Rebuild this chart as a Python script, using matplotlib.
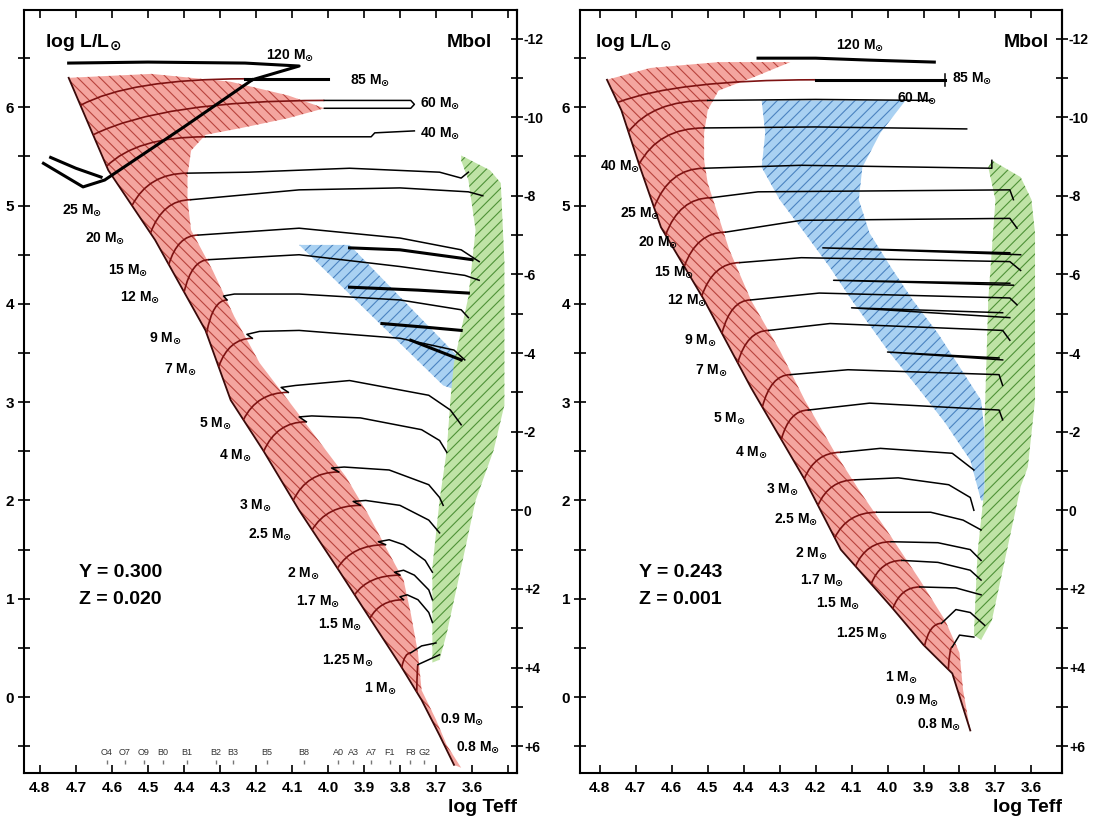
import numpy as np
import matplotlib
matplotlib.use("Agg")
import matplotlib.pyplot as plt
from matplotlib.patches import Polygon, PathPatch
from matplotlib.path import Path
from matplotlib.ticker import FixedLocator, FuncFormatter

plt.rcParams['font.family'] = ['Liberation Sans Narrow', 'Liberation Sans', 'DejaVu Sans']
plt.rcParams['font.weight'] = 'bold'
plt.rcParams['mathtext.fontset'] = 'dejavusans'
plt.rcParams['hatch.linewidth'] = 0.8

# ---------------- common labels ----------------
MASS_NAMES = ['120', '85', '60', '40', '25', '20', '15', '12', '9', '7', '5', '4',
              '3', '2.5', '2', '1.7', '1.5', '1.25', '1', '0.9', '0.8']
XTICKS = [4.8, 4.7, 4.6, 4.5, 4.4, 4.3, 4.2, 4.1, 4.0, 3.9, 3.8, 3.7, 3.6, 3.5]
MBOL_TICKS = [-12, -10, -8, -6, -4, -2, 0, 2, 4, 6]
MBOL_LABELS = ['-12', '-10', '-8', '-6', '-4', '-2', '0', '+2', '+4', '+6']
SPEC_TYPES = ['O4', 'O7', 'O9', 'B0', 'B1', 'B2', 'B3', 'B5', 'B8', 'A0', 'A3', 'A7', 'F1', 'F8', 'G2']
SPEC_TEFF = [4.614, 4.564, 4.511, 4.458, 4.392, 4.311, 4.264, 4.169, 4.067, 3.972, 3.93, 3.88, 3.828, 3.772, 3.733]

# ---------------- LEFT panel: Y=0.300, Z=0.020 ----------------
L_ZAMS_T = [4.72, 4.61, 4.48, 4.34, 4.27, 4.18, 4.08, 3.97, 3.88, 3.80, 3.74, 3.69, 3.65]
L_ZAMS_L = [6.30, 5.36, 4.65, 3.73, 3.02, 2.51, 1.90, 1.29, 0.78, 0.33, -0.03, -0.39, -0.69]
L_RED_TOP_T = [4.72, 4.49, 4.27, 4.11, 4.01]
L_RED_TOP_L = [6.30, 6.34, 6.26, 6.12, 5.99]
L_RED_EDGE_T = [4.11, 4.24, 4.34, 4.38, 4.39, 4.39, 4.38, 4.32, 4.26, 4.19, 4.09, 3.95,
                3.89, 3.83, 3.79, 3.77, 3.75, 3.74, 3.70, 3.67, 3.63]
L_RED_EDGE_L = [5.89, 5.79, 5.72, 5.56, 5.31, 5.06, 4.75, 4.34, 3.87, 3.40, 2.92, 2.24,
                1.87, 1.46, 1.19, 0.85, 0.45, 0.07, -0.23, -0.49, -0.72]
L_GREEN_T = [3.63, 3.55, 3.52, 3.51, 3.51, 3.54, 3.59, 3.63, 3.67, 3.69, 3.71, 3.71,
             3.71, 3.69, 3.67, 3.66, 3.65, 3.61, 3.59, 3.61, 3.63]
L_GREEN_L = [5.51, 5.36, 5.23, 4.42, 2.97, 2.51, 2.00, 1.32, 0.65, 0.38, 0.35, 0.65,
             1.32, 2.00, 2.51, 3.02, 3.40, 4.07, 4.75, 5.26, 5.46]
L_BLUE_T = [4.08, 3.94, 3.63, 3.64, 3.68]
L_BLUE_L = [4.60, 4.60, 3.43, 3.12, 3.17]

# post main-sequence tracks (logTeff, logL)
L120A = ([4.72, 4.50, 4.23, 4.08, 4.21], [6.45, 6.46, 6.45, 6.42, 6.28])
L120B = ([4.21, 4.40, 4.62, 4.68, 4.79], [6.28, 5.80, 5.26, 5.19, 5.43])
L120C = ([4.63, 4.70, 4.77], [5.29, 5.38, 5.49])
L85 = ([4.23, 4.00], [6.29, 6.29])
L60 = ([4.01, 3.77, 3.76, 3.77, 4.01], [6.07, 6.07, 6.03, 5.99, 5.99])
L40 = ([4.34, 3.88, 3.87, 3.76], [5.70, 5.70, 5.74, 5.76])
L25 = ([4.39, 4.22, 3.94, 3.69, 3.63, 3.61], [5.33, 5.34, 5.38, 5.34, 5.28, 5.34])
L20 = ([4.38, 4.08, 3.80, 3.61, 3.57], [5.06, 5.16, 5.18, 5.14, 5.10])
L15 = ([4.36, 4.08, 3.80, 3.63, 3.58], [4.70, 4.77, 4.67, 4.55, 4.43])
L12 = ([4.33, 4.08, 3.80, 3.62, 3.58], [4.45, 4.50, 4.38, 4.29, 4.24])
L12B = ([3.94, 3.80, 3.60], [4.57, 4.55, 4.45])
L9 = ([4.28, 4.29, 4.26, 4.08, 3.80, 3.63, 3.61], [4.04, 4.08, 4.10, 4.10, 4.04, 3.94, 3.86])
L9B = ([3.94, 3.75, 3.61], [4.17, 4.14, 4.11])
L7 = ([4.21, 4.225, 4.19, 4.08, 3.80, 3.65, 3.62], [3.65, 3.69, 3.72, 3.73, 3.65, 3.53, 3.43])
L7B = ([3.85, 3.72, 3.63], [3.80, 3.76, 3.73])
L5B = ([3.77, 3.63], [3.63, 3.43])
L5 = ([4.11, 4.13, 4.09, 3.94, 3.72, 3.66, 3.63], [3.10, 3.15, 3.17, 3.22, 3.07, 2.92, 2.77])
L4 = ([4.06, 4.08, 4.045, 3.91, 3.74, 3.69, 3.67], [2.80, 2.85, 2.86, 2.84, 2.72, 2.61, 2.49])
L3 = ([3.97, 3.99, 3.955, 3.83, 3.72, 3.69, 3.68], [2.29, 2.33, 2.34, 2.31, 2.16, 2.03, 1.95])
L2_5 = ([3.91, 3.93, 3.895, 3.80, 3.72, 3.69], [1.95, 1.99, 2.00, 1.95, 1.80, 1.67])
L2 = ([3.84, 3.86, 3.83, 3.79, 3.73, 3.71], [1.55, 1.58, 1.60, 1.55, 1.39, 1.27])
L1_7 = ([3.80, 3.815, 3.79, 3.76, 3.72, 3.71], [1.24, 1.27, 1.29, 1.24, 1.09, 0.99])
L1_5 = ([3.79, 3.80, 3.78, 3.75, 3.72, 3.71], [0.99, 1.02, 1.04, 0.99, 0.86, 0.76])
L1_25 = ([3.77, 3.74, 3.70], [0.45, 0.52, 0.55])
L1 = ([3.75, 3.72, 3.69], [0.33, 0.38, 0.43])
L_TRACKS = [L60, L40, L25, L20, L15, L12, L9, L7, L5, L4, L3, L2_5, L2, L1_7, L1_5, L1_25, L1]
L_THICK = [L120A, L120B, L120C, L85, L12B, L9B, L7B, L5B]
# main-sequence arcs: ZAMS logL and the track each one joins
L_MS_ZAMS = [6.02, 5.72, 5.40, 5.00, 4.72, 4.40, 4.12, 3.70, 3.36, 2.82, 2.50, 2.00, 1.70, 1.31, 1.04, 0.80, 0.30, 0.05]
L_MS_TRACK = [L85, L60, L40, L25, L20, L15, L12, L9, L7, L5, L4, L3, L2_5, L2, L1_7, L1_5, L1_25, L1]
L_LAB_T = [4.106, 3.883, 3.689, 3.689, 4.683, 4.619, 4.556, 4.522, 4.453, 4.411, 4.314, 4.258,
           4.203, 4.161, 4.069, 4.028, 3.967, 3.944, 3.856, 3.628, 3.583]
L_LAB_L = [6.53, 6.28, 6.04, 5.74, 4.95, 4.67, 4.34, 4.07, 3.65, 3.34, 2.79, 2.46,
           1.95, 1.66, 1.26, 0.98, 0.74, 0.38, 0.09, -0.23, -0.51]

# ---------------- RIGHT panel: Y=0.243, Z=0.001 ----------------
R_ZAMS_T = [4.78, 4.74, 4.69, 4.63, 4.51, 4.38, 4.23, 4.13, 3.99, 3.90, 3.82, 3.77]
R_ZAMS_L = [6.28, 5.97, 5.41, 4.78, 4.04, 3.15, 2.21, 1.50, 0.92, 0.53, 0.24, -0.34]
R_RED_TOP_T = [4.78, 4.66, 4.47, 4.27]
R_RED_TOP_L = [6.28, 6.40, 6.46, 6.46]
R_RED_EDGE_T = [4.37, 4.47, 4.50, 4.51, 4.51, 4.50, 4.44, 4.38, 4.30, 4.23, 4.15, 4.08,
                3.99, 3.91, 3.84, 3.80, 3.79, 3.77]
R_RED_EDGE_L = [6.31, 6.17, 5.97, 5.74, 5.46, 5.23, 4.55, 4.04, 3.53, 3.02, 2.51, 2.11,
                1.63, 1.19, 0.78, 0.45, 0.07, -0.34]
R_GREEN_T = [3.71, 3.63, 3.60, 3.59, 3.59, 3.59, 3.61, 3.63, 3.67, 3.71, 3.74, 3.76,
             3.75, 3.73, 3.73, 3.72, 3.70, 3.72]
R_GREEN_L = [5.46, 5.29, 5.06, 4.72, 3.70, 3.02, 2.34, 2.14, 1.46, 0.78, 0.58, 0.63,
             1.46, 2.14, 2.82, 4.04, 5.06, 5.39]
R_BLUE_T = [4.35, 4.34, 4.35, 4.30, 4.23, 4.16, 4.10, 4.00, 3.91, 3.84, 3.77, 3.74,
            3.73, 3.73, 3.74, 3.80, 3.86, 3.93, 3.99, 4.05, 4.08, 4.07, 4.02, 3.95]
R_BLUE_L = [6.07, 5.74, 5.39, 5.06, 4.72, 4.37, 4.04, 3.53, 3.12, 2.79, 2.41, 2.00,
            2.00, 2.69, 3.02, 3.36, 3.70, 4.04, 4.37, 4.72, 5.06, 5.39, 5.74, 6.07]

R120 = ([4.36, 4.20, 4.05, 3.87], [6.50, 6.50, 6.48, 6.46])
R85 = ([4.20, 4.00, 3.84], [6.28, 6.28, 6.28])
R85_END = ([3.84, 3.84], [6.22, 6.34])
R60 = ([4.50, 4.20, 3.88], [6.07, 6.08, 6.07])
R40 = ([4.51, 4.20, 3.78], [5.79, 5.80, 5.78])
R25 = ([4.51, 4.24, 3.71, 3.71], [5.38, 5.41, 5.38, 5.46])
R20 = ([4.49, 4.36, 3.66, 3.65], [5.08, 5.14, 5.16, 5.06])
R15 = ([4.45, 4.24, 3.66, 3.64], [4.73, 4.85, 4.87, 4.77])
R12 = ([4.41, 4.24, 3.66, 3.63], [4.42, 4.47, 4.43, 4.34])
R12B = ([3.63, 4.18, 3.66], [4.50, 4.57, 4.52])
R9 = ([4.38, 4.19, 3.66, 3.64], [4.04, 4.11, 4.06, 3.99])
R9B = ([3.65, 4.15, 3.66], [4.19, 4.24, 4.21])
R7 = ([4.33, 4.16, 3.68, 3.66], [3.73, 3.80, 3.73, 3.63])
R7B = ([3.66, 4.10, 3.68], [3.86, 3.96, 3.91])
R5 = ([4.27, 4.11, 3.69, 3.68], [3.28, 3.33, 3.28, 3.17])
R5B = ([3.68, 4.00, 3.69], [3.43, 3.51, 3.45])
R4 = ([4.22, 4.05, 3.69, 3.68], [2.92, 2.99, 2.92, 2.82])
R3A = ([4.13, 4.02, 3.82, 3.76], [2.49, 2.53, 2.48, 2.31])
R3 = ([4.09, 3.97, 3.83, 3.77, 3.76], [2.21, 2.23, 2.16, 2.03, 1.90])
R2_5 = ([4.03, 3.88, 3.79, 3.74], [1.88, 1.88, 1.80, 1.70])
R2 = ([3.99, 3.86, 3.77, 3.74], [1.58, 1.57, 1.50, 1.39])
R1_7 = ([3.96, 3.86, 3.77, 3.74], [1.39, 1.37, 1.29, 1.19])
R1_5 = ([3.91, 3.81, 3.74], [1.12, 1.11, 1.04])
R1_25 = ([3.85, 3.81, 3.77, 3.73], [0.75, 0.89, 0.86, 0.73])
R1 = ([3.82, 3.80, 3.76], [0.51, 0.63, 0.61])
R_TRACKS = [R60, R40, R25, R20, R15, R12, R12B, R9, R9B, R7, R7B, R5, R5B, R4, R3A, R3,
            R2_5, R2, R1_7, R1_5, R1_25, R1, R85_END]
R_THICK = [R120, R85]
R_MS_ZAMS = [6.05, 5.75, 5.42, 4.98, 4.70, 4.38, 4.08, 3.70, 3.40, 2.95, 2.62, 2.22, 1.95, 1.62, 1.33, 1.15, 0.90, 0.52, 0.28]
R_MS_TRACK = [R85, R60, R40, R25, R20, R15, R12, R9, R7, R5, R4, R3A, R3, R2_5, R2, R1_7, R1_5, R1_25, R1]
R_LAB_T = [4.078, 3.765, 3.917, 4.744, 4.689, 4.639, 4.592, 4.558, 4.522, 4.489, 4.439, 4.378,
           4.294, 4.253, 4.211, 4.183, 4.139, 4.072, 3.961, 3.917, 3.856]
R_LAB_L = [6.63, 6.30, 6.09, 5.40, 4.92, 4.63, 4.32, 4.04, 3.63, 3.33, 2.84, 2.49,
           2.11, 1.81, 1.46, 1.19, 0.96, 0.65, 0.20, -0.03, -0.28]

RED_FILL, RED_HATCH = '#f4a59f', '#b8433d'
BLUE_FILL, BLUE_HATCH = '#a9d1f2', '#4b83c0'
GREEN_FILL, GREEN_HATCH = '#bfe3a6', '#4f9238'
MS_COLOR = '#7d1212'


def region(ax, T, L, fill, hatch_color, hatch):
    poly = Polygon(np.column_stack([T, L]), closed=True, facecolor=fill,
                   edgecolor=hatch_color, hatch=hatch, linewidth=0, zorder=1)
    ax.add_patch(poly)


def ms_arc(ax, zT, zL, lz, track):
    tz = np.interp(lz, zL[::-1], zT[::-1])
    tt, lt = track[0][0], track[1][0]
    ctrl = (tz - 0.3 * (tz - tt), lt)
    path = Path([(tz, lz), ctrl, (tt, lt)], [Path.MOVETO, Path.CURVE3, Path.CURVE3])
    ax.add_patch(PathPatch(path, facecolor='none', edgecolor=MS_COLOR, lw=1.2, zorder=3))


def panel(ax, zT, zL, topT, topL, edgeT, edgeL, gT, gL, bT, bL, tracks, thick,
          ms_z, ms_tr, labT, labL, xlim, yz, spectral):
    red_T = list(topT) + list(edgeT) + list(zT[::-1])
    red_L = list(topL) + list(edgeL) + list(zL[::-1])
    region(ax, red_T, red_L, RED_FILL, RED_HATCH, '\\\\\\')
    region(ax, bT, bL, BLUE_FILL, BLUE_HATCH, '///')
    region(ax, gT, gL, GREEN_FILL, GREEN_HATCH, '///')
    ax.plot(zT, zL, color='#3a0a0a', lw=1.3, zorder=3)
    for tr in tracks:
        ax.plot(tr[0], tr[1], color='black', lw=1.1, zorder=4)
    for tr in thick:
        ax.plot(tr[0], tr[1], color='black', lw=2.2, zorder=4)
    for lz, tr in zip(ms_z, ms_tr):
        ms_arc(ax, zT, zL, lz, tr)
    for name, t, l in zip(MASS_NAMES, labT, labL):
        ax.text(t, l, name + r' M$_{\odot}$', fontsize=10, fontweight='bold',
                ha='center', va='center', zorder=5)
    ax.text(0.043 if spectral else 0.031, 0.957, r'log L/L$_{\odot}$', transform=ax.transAxes,
            fontsize=14, fontweight='bold', ha='left', va='center')
    ax.text(0.95 if spectral else 0.972, 0.957, 'Mbol', transform=ax.transAxes,
            fontsize=14, fontweight='bold', ha='right', va='center')
    ax.text(1.0, -0.045, 'log Teff', transform=ax.transAxes, fontsize=14,
            fontweight='bold', ha='right', va='center')
    ax.text(4.69, 1.27, yz[0], fontsize=14, fontweight='bold', ha='left', va='center')
    ax.text(4.69, 0.99, yz[1], fontsize=14, fontweight='bold', ha='left', va='center')
    if spectral:
        for s, t in zip(SPEC_TYPES, SPEC_TEFF):
            ax.text(t, -0.56, s, fontsize=6.5, ha='center', va='center', color='#333333',
                    fontweight='normal')
        ax.plot(SPEC_TEFF, [-0.665] * len(SPEC_TEFF), ls='none', marker='|',
                markersize=3, color='#777777')

    ax.set_xlim(*xlim)
    ax.set_ylim(-0.773, 6.99)
    ax.xaxis.set_major_locator(FixedLocator(XTICKS))
    ax.xaxis.set_major_formatter(FuncFormatter(lambda v, p: '' if v < 3.55 else f'{v:.1f}'))
    ax.yaxis.set_major_locator(FixedLocator([0, 1, 2, 3, 4, 5, 6]))
    ax.yaxis.set_minor_locator(FixedLocator([-0.5, 0.5, 1.5, 2.5, 3.5, 4.5, 5.5, 6.5]))
    ax.tick_params(axis='x', which='both', direction='in', top=True, length=6, width=1.2,
                   labelsize=11, pad=6)
    ax.tick_params(axis='y', which='major', direction='inout', length=8, width=1.2,
                   labelsize=11, pad=3)
    ax.tick_params(axis='y', which='minor', direction='inout', length=8, width=1.2)
    for lab in ax.get_xticklabels() + ax.get_yticklabels():
        lab.set_fontweight('bold')
    for sp in ax.spines.values():
        sp.set_linewidth(1.5)
    sec = ax.secondary_yaxis('right', functions=(lambda x: 4.75 - 2.5 * x,
                                                  lambda m: (4.75 - m) / 2.5))
    sec.yaxis.set_major_locator(FixedLocator(MBOL_TICKS))
    sec.yaxis.set_major_formatter(FuncFormatter(
        lambda v, p: MBOL_LABELS[MBOL_TICKS.index(int(round(v)))] if int(round(v)) in MBOL_TICKS else ''))
    sec.yaxis.set_minor_locator(FixedLocator([-11, -9, -7, -5, -3, -1, 1, 3, 5]))
    sec.tick_params(which='both', direction='inout', length=8, width=1.2, labelsize=10, pad=1)
    for lab in sec.get_yticklabels():
        lab.set_fontweight('bold')
    sec.spines['right'].set_linewidth(1.5)


fig = plt.figure(figsize=(10.95, 8.19), dpi=100)
axL = fig.add_axes([24 / 1095, 46 / 819, 493 / 1095, 763 / 819])
axR = fig.add_axes([580 / 1095, 46 / 819, 482 / 1095, 763 / 819])

panel(axL, L_ZAMS_T, L_ZAMS_L, L_RED_TOP_T, L_RED_TOP_L, L_RED_EDGE_T, L_RED_EDGE_L,
      L_GREEN_T, L_GREEN_L, L_BLUE_T, L_BLUE_L, L_TRACKS, L_THICK, L_MS_ZAMS, L_MS_TRACK,
      L_LAB_T, L_LAB_L, (4.844, 3.475), ('Y = 0.300', 'Z = 0.020'), True)
panel(axR, R_ZAMS_T, R_ZAMS_L, R_RED_TOP_T, R_RED_TOP_L, R_RED_EDGE_T, R_RED_EDGE_L,
      R_GREEN_T, R_GREEN_L, R_BLUE_T, R_BLUE_L, R_TRACKS, R_THICK, R_MS_ZAMS, R_MS_TRACK,
      R_LAB_T, R_LAB_L, (4.855, 3.515), ('Y = 0.243', 'Z = 0.001'), False)

fig.savefig('out.png', dpi=100)
